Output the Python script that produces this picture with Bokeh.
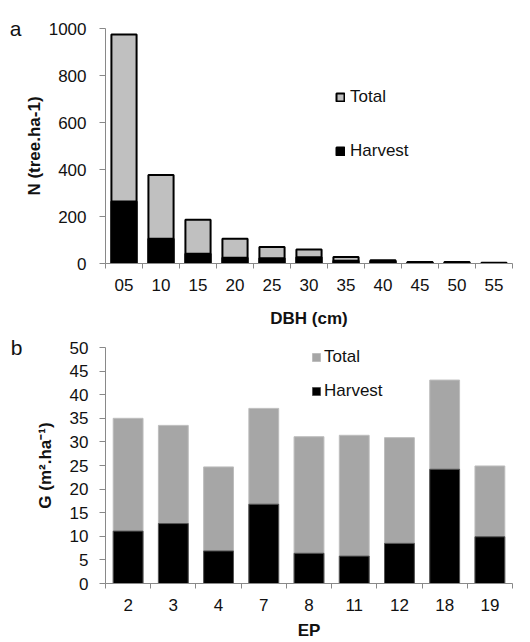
from bokeh.plotting import figure
from bokeh.models import FixedTicker, Legend, LegendItem, Range1d, LinearAxis
from bokeh.layouts import column
from bokeh.embed import file_html
from bokeh.resources import INLINE

# ---- data (panel a) ----
dbh_classes = ["05", "10", "15", "20", "25", "30", "35", "40", "45", "50", "55"]
n_total = [975, 377, 186, 105, 70, 60, 28, 14, 6, 6, 3]
n_harvest = [264, 105, 42, 25, 22, 27, 12, 8, 4, 3, 0]
n_ticks = [0, 200, 400, 600, 800, 1000]

# ---- data (panel b) ----
ep_plots = ["2", "3", "4", "7", "8", "11", "12", "18", "19"]
g_total = [35.0, 33.5, 24.7, 37.1, 31.1, 31.4, 30.9, 43.1, 24.9]
g_harvest = [11.1, 12.7, 6.9, 16.8, 6.4, 5.8, 8.5, 24.2, 9.9]
g_ticks = [0, 5, 10, 15, 20, 25, 30, 35, 40, 45, 50]

FONT = "Liberation Sans"
AXIS_GRAY = "#898989"


def style(p, cats, yticks, xlab, ylab, x_std, x_lab_std, y_std, y_lab_std):
    n = len(cats)
    centers = list(range(n))
    bounds = [i - 0.5 for i in range(n + 1)]
    p.xaxis.ticker = FixedTicker(ticks=centers, minor_ticks=bounds)
    p.xaxis.major_label_overrides = {c: lab for c, lab in zip(centers, cats)}
    p.xaxis.major_tick_out = 0
    p.xaxis.major_tick_in = 0
    p.xaxis.minor_tick_out = 5
    p.xaxis.minor_tick_in = 0
    p.xaxis.minor_tick_line_color = AXIS_GRAY
    p.yaxis.ticker = FixedTicker(ticks=yticks)
    p.yaxis.major_tick_out = 6
    p.yaxis.major_tick_in = 0
    p.yaxis.minor_tick_line_color = None
    for ax in (p.xaxis[0], p.yaxis[0]):
        ax.axis_line_color = AXIS_GRAY
        ax.major_tick_line_color = AXIS_GRAY
        ax.major_label_text_font = FONT
        ax.major_label_text_font_size = "17px"
        ax.major_label_text_color = "#111111"
        ax.axis_label_text_font = FONT
        ax.axis_label_text_font_size = "17px"
        ax.axis_label_text_font_style = "bold"
        ax.axis_label_text_color = "#111111"
    p.xaxis.axis_label = xlab
    p.yaxis.axis_label = ylab
    p.xaxis.major_label_standoff = x_std
    p.xaxis.axis_label_standoff = x_lab_std
    p.yaxis.major_label_standoff = y_std
    p.yaxis.axis_label_standoff = y_lab_std
    p.xgrid.visible = False
    p.ygrid.visible = False
    p.outline_line_color = None


def panel_letter(p, letter, ytop, standoff):
    # an invisible extra left axis whose only tick label is the panel letter
    ax = LinearAxis(ticker=FixedTicker(ticks=[ytop]),
                    major_label_overrides={ytop: letter},
                    axis_line_color=None, major_tick_line_color=None,
                    minor_tick_line_color=None,
                    major_tick_out=0, major_tick_in=0,
                    major_label_standoff=standoff,
                    major_label_text_font=FONT,
                    major_label_text_font_size="21px",
                    major_label_text_color="#111111")
    p.add_layout(ax, "left")


# ---------------- panel a ----------------
xa = list(range(len(dbh_classes)))
p1 = figure(width=530, height=330, x_range=Range1d(-0.5, len(dbh_classes) - 0.5),
            y_range=Range1d(0, n_ticks[-1]), output_backend="svg",
            toolbar_location=None,
            min_border_left=105, min_border_right=1, min_border_top=28,
            min_border_bottom=65)
r_tot1 = p1.vbar(x=xa, top=n_total, bottom=0, width=0.68, fill_color="#c0c0c0",
                 line_color="black", line_width=2)
r_har1 = p1.vbar(x=xa, top=n_harvest, bottom=0, width=0.68, fill_color="black",
                 line_color="black", line_width=2)
style(p1, dbh_classes, n_ticks, "DBH (cm)", "N (tree.ha-1)", 10, 15, 13, 2)
leg1 = Legend(items=[LegendItem(label="Total", renderers=[r_tot1]),
                     LegendItem(label="Harvest", renderers=[r_har1])],
              location=(230, 102), padding=0, margin=0, spacing=34,
              glyph_width=10, glyph_height=10, label_standoff=5, label_height=20,
              label_text_font=FONT, label_text_font_size="17px",
              label_text_color="#111111",
              border_line_color=None, background_fill_alpha=0)
p1.add_layout(leg1)
panel_letter(p1, "a", n_ticks[-1], 0)

# ---------------- panel b ----------------
xb = list(range(len(ep_plots)))
p2 = figure(width=530, height=312, x_range=Range1d(-0.5, len(ep_plots) - 0.5),
            y_range=Range1d(0, g_ticks[-1]), output_backend="svg",
            toolbar_location=None,
            min_border_left=102, min_border_right=18, min_border_top=17,
            min_border_bottom=52)
r_tot2 = p2.vbar(x=xb, top=g_total, bottom=0, width=0.66, fill_color="#a6a6a6",
                 line_color="#bdbdbd", line_width=1)
r_har2 = p2.vbar(x=xb, top=g_harvest, bottom=0, width=0.66, fill_color="black",
                 line_color="#555555", line_width=1)
style(p2, ep_plots, g_ticks, "EP", "G (m\u00b2.ha\u207b\u00b9)", 10, 7, 11, 12)
leg2 = Legend(items=[LegendItem(label="Total", renderers=[r_tot2]),
                     LegendItem(label="Harvest", renderers=[r_har2])],
              location=(206, 182), padding=0, margin=0, spacing=14,
              glyph_width=10, glyph_height=10, label_standoff=3, label_height=20,
              label_text_font=FONT, label_text_font_size="17px",
              label_text_color="#111111",
              border_line_color=None, background_fill_alpha=0)
p2.add_layout(leg2)
panel_letter(p2, "b", g_ticks[-1], 10)

layout = column(p1, p2, spacing=0)
open("out.html", "w").write(file_html(layout, INLINE))
